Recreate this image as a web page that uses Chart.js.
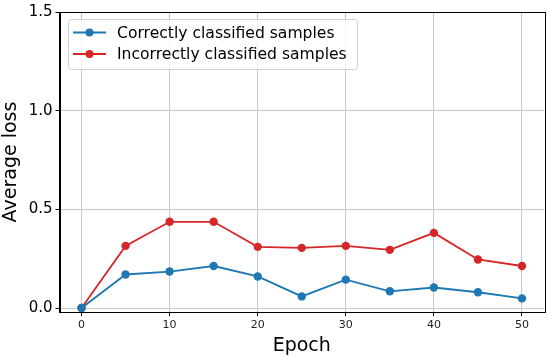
<!DOCTYPE html>
<html><head><meta charset="utf-8">
<script src="https://cdn.jsdelivr.net/npm/chart.js@4/dist/chart.umd.min.js"></script>
<style>html,body{margin:0;padding:0;background:#fff;}canvas{display:block;}</style>
</head><body>
<canvas id="c" width="550" height="357"></canvas>
<script>
const epochs = [0, 5, 10, 15, 20, 25, 30, 35, 40, 45, 50];
const correctLoss = [0, 0.170, 0.185, 0.213, 0.160, 0.059, 0.144, 0.085, 0.104, 0.080, 0.049];
const incorrectLoss = [0, 0.315, 0.437, 0.437, 0.310, 0.305, 0.315, 0.295, 0.381, 0.246, 0.213];
const xTicks = [0, 10, 20, 30, 40, 50];
const yTicks = [0.0, 0.5, 1.0, 1.5];
const seriesNames = ['Correctly classified samples', 'Incorrectly classified samples'];
const blue = '#1f77b4', red = '#d62728';
const FONT = '"DejaVu Sans", sans-serif';

const frame = {
  id: 'frame',
  afterDraw(chart) {
    const {ctx, chartArea: a} = chart;
    ctx.save();
    ctx.strokeStyle = '#000'; ctx.lineWidth = 1;
    ctx.strokeRect(Math.round(a.left) + 0.5, Math.round(a.top) + 0.5, Math.round(a.right - a.left), Math.round(a.bottom - a.top));
    // legend
    const lx = 68, ly = 19, lw = 289, lh = 50;
    ctx.fillStyle = 'rgba(255,255,255,0.8)';
    ctx.strokeStyle = '#d0d0d0';
    ctx.beginPath();
    ctx.roundRect(lx + 0.5, ly + 0.5, lw, lh, 3);
    ctx.fill(); ctx.stroke();
    const rows = [[seriesNames[0], blue, 32.5], [seriesNames[1], red, 54]];
    ctx.font = '15.6px ' + FONT;
    ctx.textBaseline = 'middle';
    for (const [t, c, y] of rows) {
      ctx.strokeStyle = c; ctx.lineWidth = 1.8;
      ctx.beginPath(); ctx.moveTo(73, y); ctx.lineTo(106, y); ctx.stroke();
      ctx.fillStyle = c;
      ctx.beginPath(); ctx.arc(89.5, y, 4, 0, Math.PI * 2); ctx.fill();
      ctx.fillStyle = '#000';
      ctx.fillText(t, 117, y + 1);
    }
    ctx.restore();
  }
};

new Chart(document.getElementById('c'), {
  type: 'line',
  data: {
    datasets: [
      { label: seriesNames[0], data: epochs.map((e, i) => ({x: e, y: correctLoss[i]})),
        borderColor: blue, backgroundColor: blue, borderWidth: 1.8, pointRadius: 4.2, pointHoverRadius: 4.2, pointBorderWidth: 0 },
      { label: seriesNames[1], data: epochs.map((e, i) => ({x: e, y: incorrectLoss[i]})),
        borderColor: red, backgroundColor: red, borderWidth: 1.8, pointRadius: 4.2, pointHoverRadius: 4.2, pointBorderWidth: 0 }
    ]
  },
  options: {
    responsive: false, animation: false, devicePixelRatio: 1,
    layout: { padding: { top: 12, right: 6, left: 0, bottom: 0 } },
    plugins: { legend: { display: false }, tooltip: { enabled: false } },
    scales: {
      x: {
        type: 'linear', min: -2.5, max: 52.5,
        afterBuildTicks: s => { s.ticks = xTicks.map(v => ({value: v})); },
        afterFit: s => { s.height = 45; },
        grid: { color: '#c8c8c8', lineWidth: 1, tickColor: '#000', tickLength: 4 },
        border: { color: '#000', width: 1 },
        ticks: { color: '#222', font: { family: FONT, size: 11 }, padding: 3, maxRotation: 0 },
        title: { display: true, text: 'Epoch', color: '#000', font: { family: FONT, size: 19 }, padding: { top: 0, bottom: 0 } }
      },
      y: {
        min: -0.02, max: 1.5,
        afterBuildTicks: s => { s.ticks = yTicks.map(v => ({value: v})); },
        afterFit: s => { s.width = 59.5; },
        grid: { color: '#c8c8c8', lineWidth: 1, tickColor: '#000', tickLength: 4 },
        border: { color: '#000', width: 1 },
        ticks: { color: '#000', font: { family: FONT, size: 15 }, padding: 3, callback: v => Number(v).toFixed(1) },
        title: { display: true, text: 'Average loss', color: '#000', font: { family: FONT, size: 19 }, padding: { top: 0, bottom: 0 } }
      }
    }
  },
  plugins: [frame]
});
</script>
</body></html>
